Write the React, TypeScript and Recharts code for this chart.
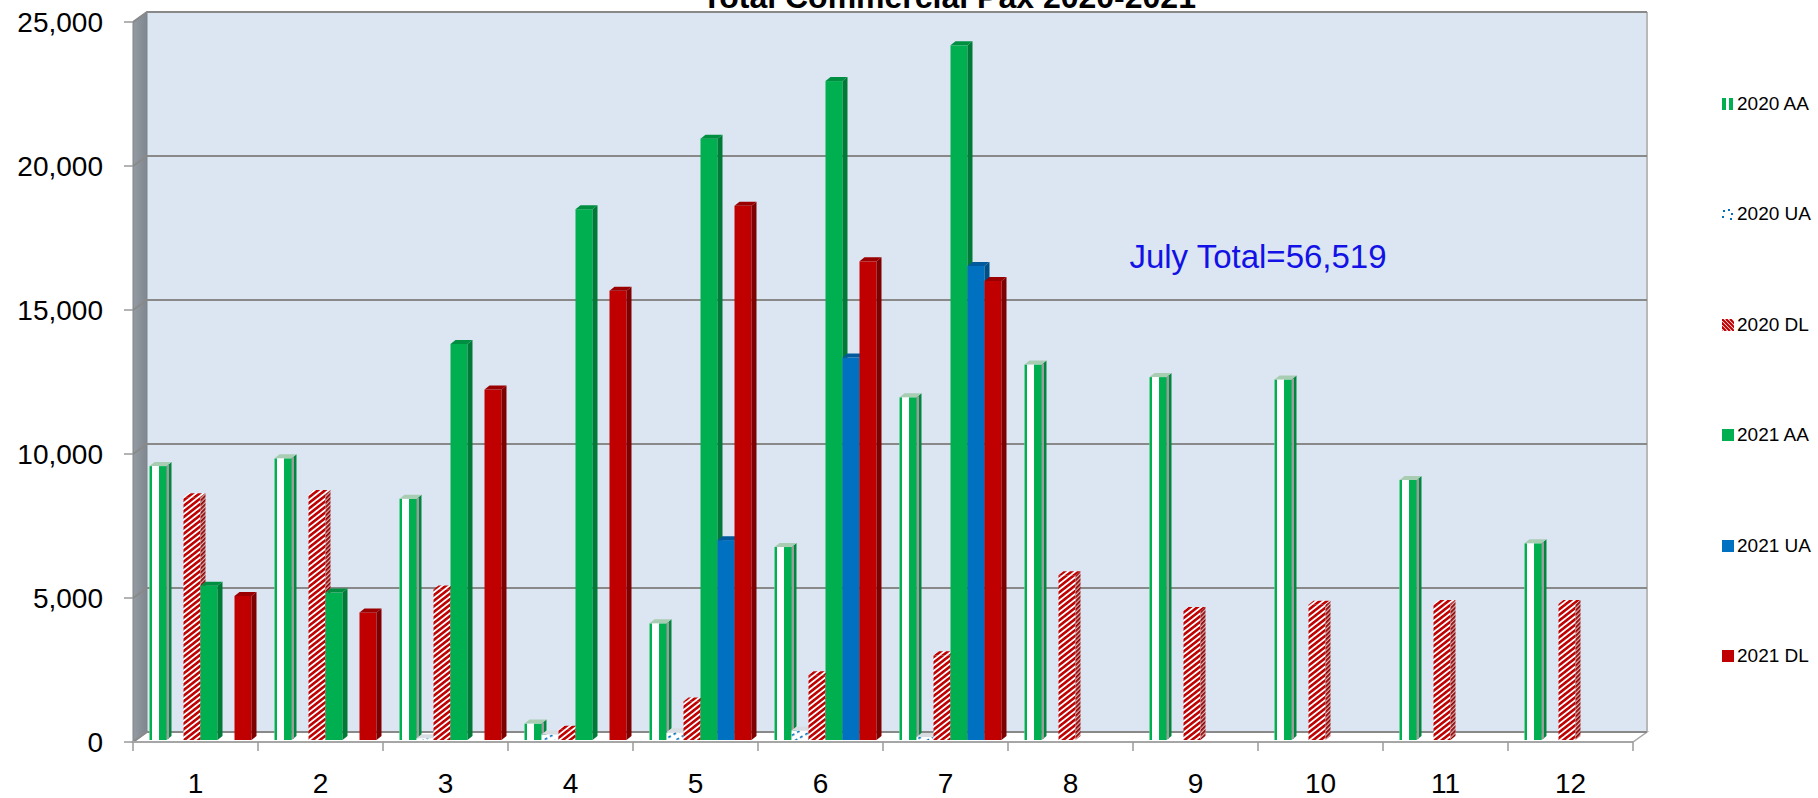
import React from 'react';
import { BarChart, Bar, XAxis, YAxis, CartesianGrid, ReferenceArea, Legend } from 'recharts';

const months = ['1', '2', '3', '4', '5', '6', '7', '8', '9', '10', '11', '12'];
const aa2020 = [9510, 9780, 8380, 570, 4050, 6700, 11900, 13040, 12600, 12520, 9030, 6830];
const ua2020 = [0, 0, 60, 190, 270, 330, 100, 0, 0, 0, 0, 0];
const dl2020 = [8430, 8540, 5230, 360, 1340, 2250, 2940, 5720, 4480, 4700, 4720, 4720];
const aa2021 = [5360, 5120, 13750, 18430, 20880, 22880, 24120, null, null, null, null, null];
const ua2021 = [0, 0, 0, 0, 6940, 13280, 16460, null, null, null, null, null];
const dl2021 = [5000, 4430, 12170, 15600, 18550, 16620, 15939, null, null, null, null, null];
const yTicks = [0, 5000, 10000, 15000, 20000, 25000];
const titleText = 'Total Commercial Pax 2020-2021';
const noteText = 'July Total=56,519';

const seriesKeys = ['aa2020', 'ua2020', 'dl2020', 'aa2021', 'ua2021', 'dl2021'];
const seriesNames = ['2020 AA', '2020 UA', '2020 DL', '2021 AA', '2021 UA', '2021 DL'];
const seriesValues = [aa2020, ua2020, dl2020, aa2021, ua2021, dl2021];

const data = months.map((m, i) => {
  const row: any = { month: m };
  seriesKeys.forEach((k, j) => {
    row[k] = seriesValues[j][i];
  });
  return row;
});

const FONT = '"Liberation Sans", Arial, sans-serif';
const GRID = '#898989';
const WALL_DX = 14;
const WALL_DY = -10;
const BAR_DX = 4;
const BAR_DY = -2;
const DEP_X = 5;
const DEP_Y = -4;

const GREEN = '#00B050';
const RED = '#C00000';
const BLUE = '#0070C0';

const Defs = () => (
  <defs>
    <pattern id="dlPat" patternUnits="userSpaceOnUse" width="4.4" height="4.4" patternTransform="rotate(-38)">
      <rect x="0" y="0" width="4.4" height="4.4" fill="#ffffff" />
      <rect x="0" y="0" width="4.4" height="2.6" fill={RED} />
    </pattern>
    <pattern id="dlPatSide" patternUnits="userSpaceOnUse" width="3" height="3" patternTransform="rotate(-45)">
      <rect x="0" y="0" width="3" height="3" fill="#e0b0b0" />
      <rect x="0" y="0" width="3" height="1.7" fill="#8a0000" />
    </pattern>
    <pattern id="uaPat" patternUnits="userSpaceOnUse" width="6" height="6" patternTransform="rotate(-30)">
      <rect x="0" y="0" width="6" height="6" fill="#ffffff" />
      <rect x="0" y="0" width="3" height="1.6" fill={BLUE} />
    </pattern>
    <linearGradient id="leftWallGrad" x1="0" y1="0" x2="1" y2="0">
      <stop offset="0" stopColor="#959ba3" />
      <stop offset="1" stopColor="#7f868e" />
    </linearGradient>
  </defs>
);

const WallShape = (props: any) => {
  const { x, y, width, height } = props;
  if (x == null || y == null) return <g />;
  const bx = x + WALL_DX;
  const by = y + WALL_DY;
  return (
    <g>
      <Defs />
      <rect x={bx} y={by} width={width} height={height} fill="#DCE6F2" />
      <polygon
        points={`${x},${y} ${bx},${by} ${bx},${by + height} ${x},${y + height}`}
        fill="url(#leftWallGrad)"
        stroke="#7d848b"
        strokeWidth={1}
      />
      <polygon
        points={`${x},${y + height} ${bx},${by + height} ${bx + width},${by + height} ${x + width},${y + height}`}
        fill="#ffffff"
        stroke="#a6a6a6"
        strokeWidth={1.5}
      />
      <line x1={bx} y1={by} x2={bx + width} y2={by} stroke={GRID} strokeWidth={2} />
      <line x1={bx + width} y1={by} x2={bx + width} y2={by + height} stroke="#b8b8b8" strokeWidth={2} />
    </g>
  );
};

const GridLine = (p: any) => {
  const { x1, y1, x2 } = p;
  if (x1 == null || y1 == null) return <g key={p.key} />;
  return (
    <polyline
      key={p.key}
      points={`${x1},${y1} ${x1 + WALL_DX},${y1 + WALL_DY} ${x2 + WALL_DX},${y1 + WALL_DY}`}
      fill="none"
      stroke={GRID}
      strokeWidth={2}
    />
  );
};

const makeShape = (kind: string, front: string, side: string, top: string) => (props: any) => {
  const { x, y, width, height } = props;
  if (x == null || y == null || !height || height <= 0) return <g />;
  const fx = x + BAR_DX;
  const fy = y + BAR_DY;
  const w = width;
  const h = height;
  const sidePts = `${fx + w},${fy} ${fx + w + DEP_X},${fy + DEP_Y} ${fx + w + DEP_X},${fy + h + DEP_Y} ${fx + w},${fy + h}`;
  const topPts = `${fx},${fy} ${fx + DEP_X},${fy + DEP_Y} ${fx + w + DEP_X},${fy + DEP_Y} ${fx + w},${fy}`;
  if (kind === 'vstripe') {
    return (
      <g>
        <rect x={fx} y={fy} width={w} height={h} fill="#ffffff" />
        <rect x={fx} y={fy} width={2.5} height={h} fill={GREEN} />
        <rect x={fx + w * 0.56} y={fy} width={w * 0.44} height={h} fill={GREEN} />
        <polygon points={sidePts} fill={side} />
        <line x1={fx + w + 1.5} y1={fy - 1} x2={fx + w + 1.5} y2={fy + h - 1} stroke="#9c9c9c" strokeWidth={2} />
        <polygon points={topPts} fill={top} />
      </g>
    );
  }
  return (
    <g>
      <rect x={fx} y={fy} width={w} height={h} fill={front} />
      <polygon points={sidePts} fill={side} />
      <polygon points={topPts} fill={top} />
    </g>
  );
};

const shapes: any = {
  aa2020: makeShape('vstripe', GREEN, '#00863e', '#a9cdb3'),
  ua2020: makeShape('pattern', 'url(#uaPat)', '#b0b8c0', '#d8dde3'),
  dl2020: makeShape('pattern', 'url(#dlPat)', 'url(#dlPatSide)', 'url(#dlPat)'),
  aa2021: makeShape('solid', GREEN, '#007A37', '#008f40'),
  ua2021: makeShape('solid', BLUE, '#004E86', '#005a9c'),
  dl2021: makeShape('solid', RED, '#7F0000', '#9a0000'),
};
const fills: any = {
  aa2020: GREEN, ua2020: BLUE, dl2020: RED, aa2021: GREEN, ua2021: BLUE, dl2021: RED,
};

const Swatch = ({ k }: { k: string }) => {
  if (k === 'aa2020') {
    return (
      <svg width={12} height={12}>
        <rect x={0} y={0} width={12} height={12} fill="#fff" />
        <rect x={0} y={0} width={4} height={12} fill={GREEN} />
        <rect x={7} y={0} width={4} height={12} fill={GREEN} />
      </svg>
    );
  }
  if (k === 'ua2020') {
    return (
      <svg width={12} height={12}>
        <rect x={1} y={2} width={2} height={2} fill={BLUE} />
        <rect x={6} y={1} width={2} height={2} fill={BLUE} />
        <rect x={9} y={5} width={2} height={2} fill={BLUE} />
        <rect x={0} y={8} width={2} height={2} fill={BLUE} />
        <rect x={8} y={10} width={2} height={2} fill={BLUE} />
      </svg>
    );
  }
  if (k === 'dl2020') {
    return (
      <svg width={12} height={12}>
        <rect x={0} y={0} width={12} height={12} fill="#fff" />
        {[0, 4, 8, 12, 16, 20].map((o) => (
          <line key={o} x1={o - 12} y1={0} x2={o} y2={12} stroke={RED} strokeWidth={2.2} />
        ))}
      </svg>
    );
  }
  return (
    <svg width={12} height={12}>
      <rect x={0} y={0} width={12} height={12} fill={fills[k]} />
    </svg>
  );
};

const renderLegend = (props: any) => {
  const payload = [...(props.payload || [])].sort(
    (a: any, b: any) => seriesKeys.indexOf(String(a.dataKey)) - seriesKeys.indexOf(String(b.dataKey))
  );
  return (
    <div style={{ position: 'absolute', left: 0, top: 0 }}>
      {payload.map((e: any, i: number) => (
        <div
          key={String(e.dataKey)}
          style={{
            position: 'absolute',
            left: 1722,
            top: 104 + i * 110.4 - 12,
            height: 24,
            display: 'flex',
            alignItems: 'center',
            whiteSpace: 'nowrap',
            fontFamily: FONT,
            fontSize: 19,
            color: '#000',
          }}
        >
          <Swatch k={String(e.dataKey)} />
          <span style={{ marginLeft: 3 }}>{e.value}</span>
        </div>
      ))}
    </div>
  );
};

const XTick = (p: any) => {
  const { x, y, payload, index, visibleTicksCount } = p;
  const half = payload && typeof payload.offset === 'number' && payload.offset > 0 ? payload.offset : 62.5;
  const axisY = y - 9;
  return (
    <g>
      <line x1={x - half} y1={axisY} x2={x - half} y2={axisY + 9} stroke="#9a9a9a" strokeWidth={1.5} />
      {index === visibleTicksCount - 1 ? (
        <line x1={x + half} y1={axisY} x2={x + half} y2={axisY + 9} stroke="#9a9a9a" strokeWidth={1.5} />
      ) : null}
      <text x={x} y={axisY + 51} textAnchor="middle" fontSize={28} fill="#000" fontFamily={FONT}>
        {payload.value}
      </text>
    </g>
  );
};

export default function App() {
  return (
    <div style={{ position: 'absolute', left: 0, top: 0, width: 1818, height: 798, background: '#fff', overflow: 'hidden' }}>
      <BarChart
        width={1818}
        height={798}
        data={data}
        margin={{ top: 22, right: 185, bottom: 0, left: 13 }}
        barCategoryGap="10%"
        barGap={0}
        style={{ fontFamily: FONT }}
      >
        <ReferenceArea
          y1={0}
          y2={25000}
          ifOverflow="visible"
          shape={(p: any) => <WallShape {...p} />}
          zIndex={-200}
        />
        <CartesianGrid vertical={false} horizontal={(p: any) => <GridLine {...p} />} stroke={GRID} zIndex={-150} />
        <XAxis
          dataKey="month"
          type="category"
          interval={0}
          tickLine={false}
          tickSize={9}
          tickMargin={0}
          height={56}
          axisLine={{ stroke: '#a6a6a6', strokeWidth: 2 }}
          tick={(p: any) => <XTick {...p} />}
        />
        <YAxis
          domain={[0, 25000]}
          ticks={yTicks}
          width={120}
          axisLine={false}
          tickSize={9}
          tickMargin={21}
          tickLine={{ stroke: '#9a9a9a', strokeWidth: 1.5 }}
          tick={{ fontSize: 28, fill: '#000', fontFamily: FONT }}
          tickFormatter={(v: number) => v.toLocaleString('en-US')}
          allowDataOverflow
        />
        {seriesKeys.map((k, j) => (
          <Bar
            key={k}
            dataKey={k}
            name={seriesNames[j]}
            fill={fills[k]}
            shape={shapes[k]}
            isAnimationActive={false}
          />
        ))}
        <ReferenceArea
          x1="9"
          x2="10"
          y1={16000}
          y2={17700}
          ifOverflow="visible"
          fill="none"
          fillOpacity={0}
          stroke="none"
          label={{ value: noteText, position: 'center', fill: '#1212E6', fontSize: 33, fontFamily: FONT }}
        />
        <Legend
          layout="vertical"
          align="right"
          verticalAlign="top"
          wrapperStyle={{ left: 0, top: 0 }}
          content={renderLegend}
        />
      </BarChart>
      <div
        style={{
          position: 'absolute',
          left: 549,
          top: -19,
          width: 800,
          textAlign: 'center',
          fontFamily: FONT,
          fontWeight: 'bold',
          fontSize: 32,
          lineHeight: '32px',
          color: '#000',
          whiteSpace: 'nowrap',
        }}
      >
        {titleText}
      </div>
    </div>
  );
}
